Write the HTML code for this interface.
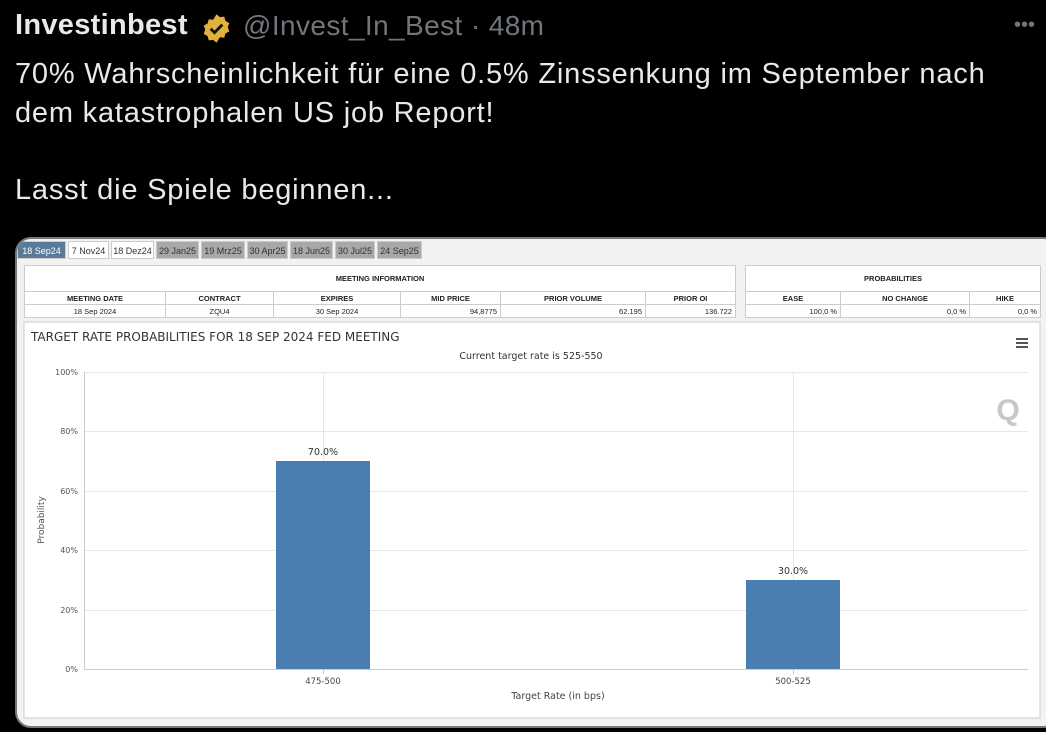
<!DOCTYPE html>
<html><head><meta charset="utf-8"><style>
*{margin:0;padding:0;box-sizing:border-box}
body{width:1046px;height:732px;background:#000;overflow:hidden;position:relative;font-family:"Liberation Sans",sans-serif}
.t{position:absolute;color:#e7e9ea;white-space:nowrap}
.card{position:absolute;left:15px;top:237px;width:1045px;height:491px;border-radius:16px;background:#f2f2f2;overflow:hidden;border:2px solid #777}
.tab{position:absolute;top:2px;height:18px;font-size:9px;line-height:18px;text-align:center;color:#333;border:1px solid #ccc}
table{position:absolute;border-collapse:collapse;background:#fff;font-size:7.5px;color:#222}
td{border:1px solid #ccc;text-align:center;height:13px}
</style></head><body>
<div class="t" style="left:15px;top:9px;font-size:29px;font-weight:bold;letter-spacing:0.3px">Investinbest</div>
<svg style="position:absolute;left:201px;top:13px" width="31" height="31" viewBox="0 0 24 24"><path d="M12 1l2.6 2.2 3.4-.4.9 3.3 3 1.7-1.2 3.2 1.2 3.2-3 1.7-.9 3.3-3.4-.4L12 23l-2.6-2.2-3.4.4-.9-3.3-3-1.7 1.2-3.2L2.1 9.8l3-1.7.9-3.3 3.4.4z" fill="#e2b13c"/><path d="M7.5 12.2l3 3 6-6.2" stroke="#111" stroke-width="2.2" fill="none"/></svg>
<div class="t" style="left:243px;top:10px;font-size:28px;color:#71767b;letter-spacing:0.4px">@Invest_In_Best · 48m</div>
<div class="t" style="left:1014px;top:14px;font-size:20px;color:#71767b">•••</div>
<div class="t" style="left:15px;top:55px;font-size:29px;line-height:38.5px;letter-spacing:0.8px">70% Wahrscheinlichkeit für eine 0.5% Zinssenkung im September nach<br>dem katastrophalen US job Report!<br><br>Lasst die Spiele beginnen...</div>
<div class="card">
<div class="tab" style="left:0;width:49px;background:#5a7a9a;color:#fff">18 Sep24</div>
<div class="tab" style="left:51px;width:41px;background:#fff">7 Nov24</div>
<div class="tab" style="left:94px;width:43px;background:#fff">18 Dez24</div>
<div class="tab" style="left:139px;width:43px;background:#a8a8a8">29 Jan25</div>
<div class="tab" style="left:184px;width:44px;background:#a8a8a8">19 Mrz25</div>
<div class="tab" style="left:230px;width:41px;background:#a8a8a8">30 Apr25</div>
<div class="tab" style="left:273px;width:43px;background:#a8a8a8">18 Jun25</div>
<div class="tab" style="left:318px;width:40px;background:#a8a8a8">30 Jul25</div>
<div class="tab" style="left:360px;width:45px;background:#a8a8a8">24 Sep25</div>
<table style="left:7px;top:26px;width:712px">
<tr><td colspan="6" style="height:26px;font-weight:bold">MEETING INFORMATION</td></tr>
<tr style="font-weight:bold"><td style="width:141px">MEETING DATE</td><td style="width:108px">CONTRACT</td><td style="width:127px">EXPIRES</td><td style="width:100px">MID PRICE</td><td style="width:145px">PRIOR VOLUME</td><td>PRIOR OI</td></tr>
<tr><td>18 Sep 2024</td><td>ZQU4</td><td>30 Sep 2024</td><td style="text-align:right;padding-right:3px">94,8775</td><td style="text-align:right;padding-right:3px">62.195</td><td style="text-align:right;padding-right:3px">136.722</td></tr>
</table>
<table style="left:728px;top:26px;width:296px">
<tr><td colspan="3" style="height:26px;font-weight:bold">PROBABILITIES</td></tr>
<tr style="font-weight:bold"><td style="width:95px">EASE</td><td style="width:129px">NO CHANGE</td><td>HIKE</td></tr>
<tr><td style="text-align:right;padding-right:3px">100,0 %</td><td style="text-align:right;padding-right:3px">0,0 %</td><td style="text-align:right;padding-right:3px">0,0 %</td></tr>
</table>
</div>
<svg style="position:absolute;left:0;top:0" width="1046" height="732">
<rect x="24" y="322" width="1016" height="396" fill="#fff" stroke="#ccc"/>
<text x="31" y="341" font-size="12" fill="#333" font-family="DejaVu Sans">TARGET RATE PROBABILITIES FOR 18 SEP 2024 FED MEETING</text>
<text x="531" y="359" font-size="9.5" fill="#333" text-anchor="middle" font-family="DejaVu Sans">Current target rate is 525-550</text>
<g fill="#555"><rect x="1016" y="338" width="12" height="2"/><rect x="1016" y="342" width="12" height="2"/><rect x="1016" y="346" width="12" height="2"/></g>
<g stroke="#e6e6e6" stroke-width="1">
<line x1="84" y1="372.5" x2="1028" y2="372.5"/><line x1="84" y1="431.5" x2="1028" y2="431.5"/><line x1="84" y1="491.5" x2="1028" y2="491.5"/><line x1="84" y1="550.5" x2="1028" y2="550.5"/><line x1="84" y1="610.5" x2="1028" y2="610.5"/>
<line x1="323.5" y1="372" x2="323.5" y2="669"/><line x1="793.5" y1="372" x2="793.5" y2="669"/>
</g>
<line x1="84.5" y1="372" x2="84.5" y2="669" stroke="#ccc"/>
<line x1="84" y1="669.5" x2="1028" y2="669.5" stroke="#ccc"/>
<line x1="323.5" y1="669" x2="323.5" y2="674" stroke="#ccc"/><line x1="793.5" y1="669" x2="793.5" y2="674" stroke="#ccc"/>
<text x="1008" y="420" font-size="30" font-weight="bold" fill="#c8c8c8" text-anchor="middle" font-family="Liberation Sans">Q</text>
<g font-size="8" fill="#555" text-anchor="end" font-family="DejaVu Sans">
<text x="78" y="375">100%</text><text x="78" y="434">80%</text><text x="78" y="494">60%</text><text x="78" y="553">40%</text><text x="78" y="613">20%</text><text x="78" y="672">0%</text></g>
<text x="44" y="520" font-size="9" fill="#555" text-anchor="middle" transform="rotate(-90 44 520)" font-family="DejaVu Sans">Probability</text>
<rect x="276" y="461" width="94" height="208" fill="#4a7eb0"/>
<rect x="746" y="580" width="94" height="89" fill="#4a7eb0"/>
<g font-size="9.5" fill="#333" text-anchor="middle" font-family="DejaVu Sans"><text x="323" y="455">70.0%</text><text x="793" y="574">30.0%</text></g>
<g font-size="8.5" fill="#444" text-anchor="middle" font-family="DejaVu Sans"><text x="323" y="684">475-500</text><text x="793" y="684">500-525</text><text x="558" y="699" font-size="9.5">Target Rate (in bps)</text></g>
</svg>
</body></html>
